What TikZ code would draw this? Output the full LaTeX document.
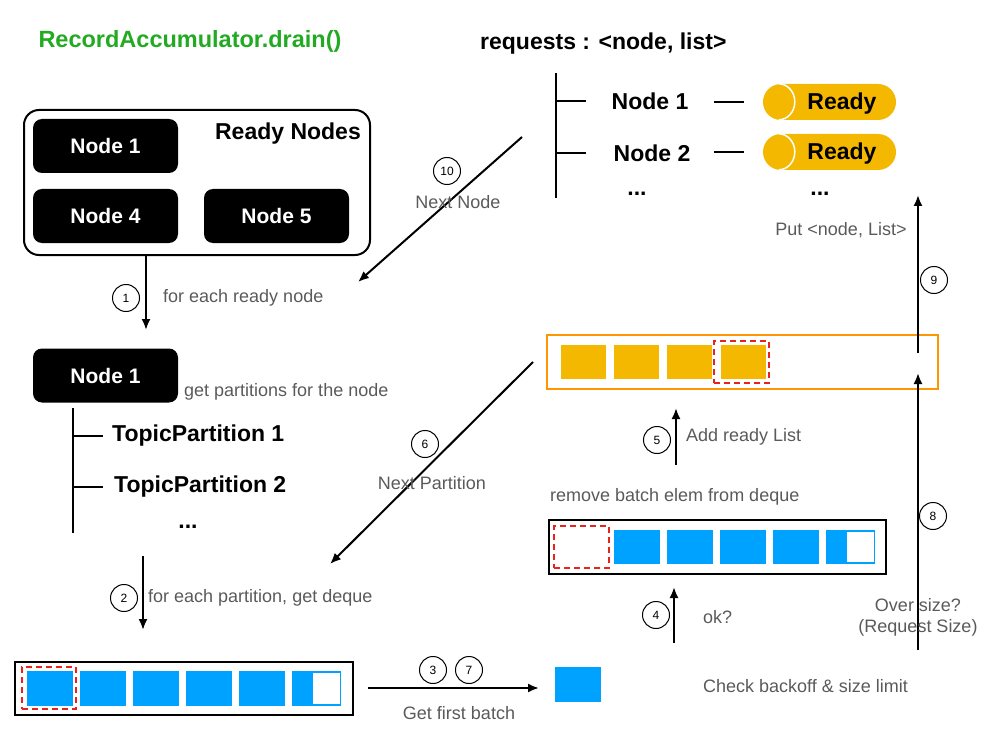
\documentclass[tikz,border=0pt]{standalone}
\usepackage{fontspec}
\setmainfont{Liberation Sans}
\usepackage{xcolor}
\usepackage{tikz}
\usetikzlibrary{arrows.meta}
\definecolor{title}{HTML}{22AA22}
\definecolor{muted}{HTML}{5A5A5A}
\definecolor{batch}{HTML}{00A2FF}
\definecolor{ready}{HTML}{F5B800}
\definecolor{frame}{HTML}{FF9500}
\definecolor{pick}{HTML}{E8231B}
\tikzset{
  lab/.style={text=black, font=\bfseries\fontsize{23}{26}\selectfont, inner sep=0pt},
  mlabel/.style={text=muted, font=\fontsize{18}{21}\selectfont, inner sep=0pt},
  blk/.style={fill=black, rounded corners=9pt, minimum width=145pt, minimum height=54pt, inner sep=0pt, text=white, font=\bfseries\fontsize{21}{24}\selectfont},
  num/.style={circle, draw, line width=1pt, minimum size=27pt, inner sep=0pt, font=\fontsize{12}{14}\selectfont},
  flow/.style={line width=2pt, -{Latex[length=11pt,width=9pt]}},
  tree/.style={line width=2pt},
  deque/.style={draw, line width=2pt, inner sep=0pt},
  cell/.style={fill=batch, minimum width=46pt, minimum height=35pt, inner sep=0pt},
  gold/.style={fill=ready, minimum width=45pt, minimum height=34pt, inner sep=0pt},
  pickbox/.style={draw=pick, line width=2.8pt, dash pattern=on 6pt off 4pt, minimum width=54pt, minimum height=42pt, inner sep=0pt},
  pill/.style={fill=ready, rounded corners=18pt, minimum width=133pt, minimum height=36pt, inner sep=0pt},
}

\begin{document}
\begin{tikzpicture}[x=1pt, y=-1pt]
  \useasboundingbox (0,0) rectangle (994,733);

  \node[lab, text=title, font=\bfseries\fontsize{23.5}{26}\selectfont] (title) at (190,41) {RecordAccumulator.drain()};
  \node[lab, anchor=west] (reqs) at (480,44) {requests : <node, list>};

  % ready nodes
  \node[draw, line width=2pt, rounded corners=15pt, minimum width=346pt, minimum height=145pt] (readyset) at (197,182.5) {};
  \node[lab] (readylab) at (288,134) {Ready Nodes};
  \node[blk] (r1) at (105.5,146) {Node 1};
  \node[blk] (r4) at (105.5,216) {Node 4};
  \node[blk] (r5) at (276.5,216) {Node 5};

  \coordinate (a1) at (146,330);      % into node 1
  \draw[flow] (readyset.south -| a1) -- (a1);
  \node[num] (c1) at (126,298) {1};
  \node[mlabel, anchor=west] (l1) at (163,298) {for each ready node};

  % node 1 and its partitions
  \node[blk] (n1) at (105.5,375.5) {Node 1};
  \node[mlabel, anchor=west] (l1b) at (184,392) {get partitions for the node};
  \coordinate (ptop) at (73,408);
  \coordinate (pbot) at (73,533);
  \draw[tree] (ptop) -- (pbot);
  \node[lab, anchor=west] (tp1) at (112,436) {TopicPartition 1};
  \node[lab, anchor=west] (tp2) at (114,487) {TopicPartition 2};
  \node[lab] (tpdots) at (188,527) {...};
  \draw[tree] (ptop |- tp1) -- ([xshift=-9pt]tp1.west);
  \draw[tree] (ptop |- tp2) -- ([xshift=-11pt]tp2.west);

  \coordinate (a2s) at (143,556);
  \coordinate (a2) at (143,630);      % into the deque
  \draw[flow] (a2s) -- (a2);
  \node[num] (c2) at (124,598) {2};
  \node[mlabel, anchor=west] (l2) at (148,598) {for each partition, get deque};

  % deque of a partition
  \node[deque, minimum width=338pt, minimum height=53pt] (dq) at (184,688.5) {};
  \node[cell] (d1) at (50,688.5) {};
  \node[cell] (d2) at (103,688.5) {};
  \node[cell] (d3) at (156,688.5) {};
  \node[cell] (d4) at (209,688.5) {};
  \node[cell] (d5) at (262,688.5) {};
  \node[cell, minimum width=49pt] (d6) at (316.5,688.5) {};
  \fill[white] (313,673) rectangle (339.5,704);
  \node[pickbox] (dpick) at (49,688) {};

  \node[cell] (first) at (578,684.5) {};
  \coordinate (a3s) at (368,688);
  \coordinate (a3) at (539,688);      % first batch
  \draw[flow] (a3s) -- (a3);
  \node[num] (c3) at (433,670) {3};
  \node[num] (c7) at (469,670) {7};
  \node[mlabel] (l3) at (459,713) {Get first batch};
  \node[mlabel, anchor=west] (lchk) at (703,686) {Check backoff \& size limit};

  % deque after removal
  \coordinate (a4s) at (674,643);
  \coordinate (a4) at (674,587);
  \draw[flow] (a4s) -- (a4);
  \node[num] (c4) at (656,615) {4};
  \node[mlabel, anchor=west] (l4) at (703,617) {ok?};

  \node[mlabel, anchor=west] (lrm) at (550,497) {remove batch elem from deque};
  \node[deque, minimum width=337pt, minimum height=54pt] (dr) at (717.5,547) {};
  \node[pickbox, minimum width=55pt] (rpick) at (581.5,547) {};
  \node[cell, minimum height=34pt] (e2) at (636.5,547) {};
  \node[cell, minimum height=34pt] (e3) at (689.5,547) {};
  \node[cell, minimum height=34pt] (e4) at (742.5,547) {};
  \node[cell, minimum height=34pt] (e5) at (795.5,547) {};
  \node[cell, minimum height=34pt, minimum width=49pt] (e6) at (850.5,547) {};
  \fill[white] (847,532) rectangle (873.5,562);

  \coordinate (a5s) at (676,465);
  \coordinate (a5) at (676,408);
  \draw[flow] (a5s) -- (a5);
  \node[num] (c5) at (657,440) {5};
  \node[mlabel, anchor=west] (l5) at (686,437) {Add ready List};

  % ready list
  \node[draw=frame, line width=2pt, minimum width=391pt, minimum height=54pt, inner sep=0pt] (rl) at (742.5,362) {};
  \node[gold] (g1) at (583.5,362) {};
  \node[gold] (g2) at (636.5,362) {};
  \node[gold] (g3) at (689.5,362) {};
  \node[gold] (g4) at (743.5,362) {};
  \node[pickbox, minimum width=55pt] (gpick) at (741.5,362) {};

  \coordinate (a6s) at (533,362);
  \coordinate (a6) at (330,564);      % back to next partition
  \draw[flow] (a6s) -- (a6);
  \node[num] (c6) at (425,444) {6};
  \node[mlabel] (l6) at (432,483) {Next Partition};

  \coordinate (a8s) at (918,650);
  \coordinate (a8) at (918,373);
  \draw[flow] (a8s) -- (a8);
  \node[num] (c8) at (933,516) {8};
  \node[mlabel, align=center] (l8) at (918,617) {Over size?\\(Request Size)};

  \coordinate (a9s) at (918,353);
  \coordinate (a9) at (918,195);
  \draw[flow] (a9s) -- (a9);
  \node[num] (c9) at (934,280) {9};
  \node[mlabel] (l9) at (841,230) {Put <node, List>};

  % requests
  \coordinate (qtop) at (556,73);
  \coordinate (qbot) at (556,198);
  \draw[tree] (qtop) -- (qbot);
  \node[lab] (q1) at (650,101) {Node 1};
  \node[lab] (q2) at (652,153) {Node 2};
  \node[lab] (qdots) at (637,194) {...};
  \draw[tree] (qtop |- q1) -- ++(30,0);
  \draw[tree] (qtop |- q2) -- ++(30,0);

  \node[pill] (p1) at (829.5,102) {};
  \node[pill] (p2) at (829.5,152) {};
  \draw[white, line width=1.5pt] ([xshift=16pt]p1.north west) arc[start angle=90, end angle=-90, x radius=16pt, y radius=18pt];
  \draw[white, line width=1.5pt] ([xshift=16pt]p2.north west) arc[start angle=90, end angle=-90, x radius=16pt, y radius=18pt];
  \node[lab] (p1t) at (842,104) {Ready};
  \node[lab] (p2t) at (842,154) {Ready};
  \node[lab] (pdots) at (820,194) {...};
  \draw[tree] ([xshift=-49pt]p1.west) -- ([xshift=-19pt]p1.west);
  \draw[tree] ([xshift=-49pt]p2.west) -- ([xshift=-19pt]p2.west);

  \coordinate (a10s) at (522,137);
  \coordinate (a10) at (358,282);     % next ready node
  \draw[flow] (a10s) -- (a10);
  \node[num] (c10) at (447,171) {10};
  \node[mlabel] (l10) at (458,202) {Next Node};
\end{tikzpicture}
\end{document}
